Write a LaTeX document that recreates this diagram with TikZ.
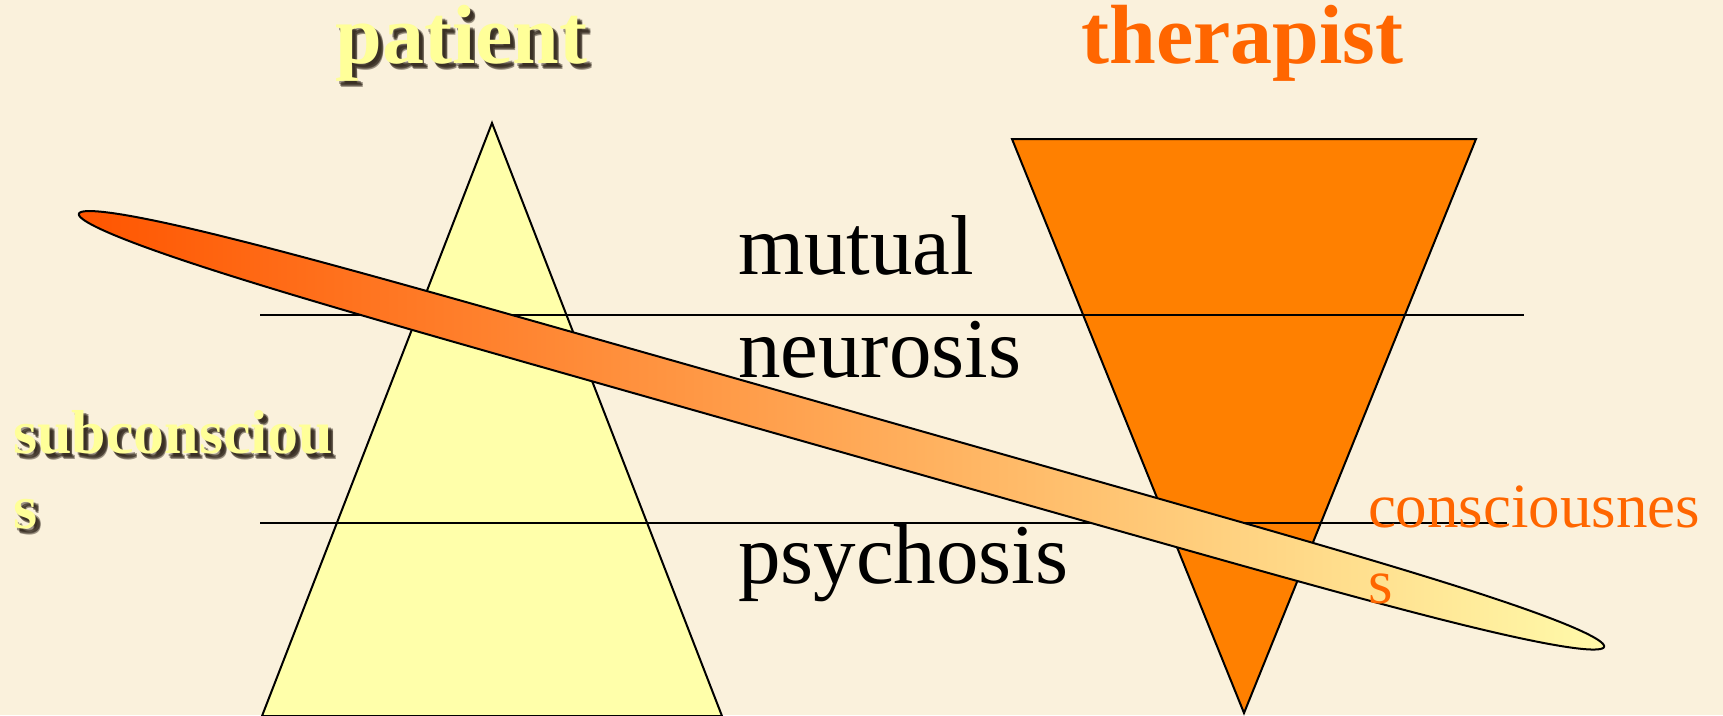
\documentclass[tikz,border=0pt]{standalone}
\usepackage{fontspec}
\setmainfont{Liberation Serif}
\definecolor{bg}{RGB}{250,241,220}
\definecolor{paleyel}{RGB}{255,255,170}
\definecolor{titleyel}{RGB}{255,255,153}
\definecolor{triorange}{RGB}{255,128,0}
\definecolor{textorange}{RGB}{255,102,0}
\definecolor{ellL}{RGB}{255,85,0}
\definecolor{ellR}{RGB}{255,250,170}
\definecolor{shadowc}{RGB}{40,30,20}
\tikzset{
  tri/.style={draw=black, line width=2pt, line join=miter},
  level/.style={draw=black, line width=2pt},
  lbl/.style={inner sep=0pt, outer sep=0pt},
  shadowtxt/.style={inner sep=0pt, outer sep=0pt, text=shadowc, text opacity=0.45},
  bigbold/.style={font=\bfseries\fontsize{84}{84}\selectfont},
  sidebold/.style={font=\bfseries\fontsize{62}{62}\selectfont},
  midtext/.style={font=\fontsize{85}{85}\selectfont},
  sidetext/.style={font=\fontsize{63}{63}\selectfont},
}
\begin{document}
\begin{tikzpicture}[x=1pt,y=-1pt]
\fill[bg] (0,0) rectangle (1723,715);
\useasboundingbox (0,0) rectangle (1723,715);
% triangles
\filldraw[tri, fill=paleyel] (492,123) -- (722,716) -- (262,716) -- cycle;
\filldraw[tri, fill=triorange] (1012,139) -- (1476,139) -- (1244,713) -- cycle;
% level lines
\coordinate (l1a) at (260,315);
\coordinate (l1b) at (1524,315);
\coordinate (l2a) at (260,523);
\coordinate (l2b) at (1507,523);
\draw[level] (l1a) -- (l1b);
\draw[level] (l2a) -- (l2b);
% elongated band
\begin{scope}[shift={(841.5,430.3)}, rotate=-15.85]
\shade[left color=ellL, right color=ellR, draw=black, line width=2pt]
  plot[domain=0.25:360.25, samples=361, variable=\t]
  ({792.6*sign(cos(\t))*pow(abs(cos(\t)),1/3)}, {21*sin(\t)}) -- cycle;
\end{scope}
% soft shadows of the yellow texts
\foreach \dx/\dy in {3/3,4/5,5/4,5/6}{
  \node[shadowtxt, anchor=base, bigbold] at (461.5+\dx,63+\dy) {patient};
  \node[shadowtxt, anchor=base west, sidebold] at (13+\dx,453+\dy) {subconsciou};
  \node[shadowtxt, anchor=base west, sidebold] at (13+\dx,528+\dy) {s};
}
% titles
\node[lbl, anchor=base, text=titleyel, bigbold] (patient) at (461.5,63) {patient};
\node[lbl, anchor=base, text=textorange, bigbold] (therapist) at (1242.5,63) {therapist};
% left label
\node[lbl, anchor=base west, text=titleyel, sidebold] (sub1) at (13,453) {subconsciou};
\node[lbl, anchor=base west, text=titleyel, sidebold] (sub2) at (13,528) {s};
% middle labels
\node[lbl, anchor=base west, midtext] (mutual) at (738,274) {mutual};
\node[lbl, anchor=base west, midtext] (neurosis) at (738,377) {neurosis};
\node[lbl, anchor=base west, midtext] (psychosis) at (738,583) {psychosis};
% right label
\node[lbl, anchor=base west, text=textorange, sidetext] (con1) at (1368,527) {consciousnes};
\node[lbl, anchor=base west, text=textorange, sidetext] (con2) at (1368,603) {s};
\end{tikzpicture}
\end{document}
